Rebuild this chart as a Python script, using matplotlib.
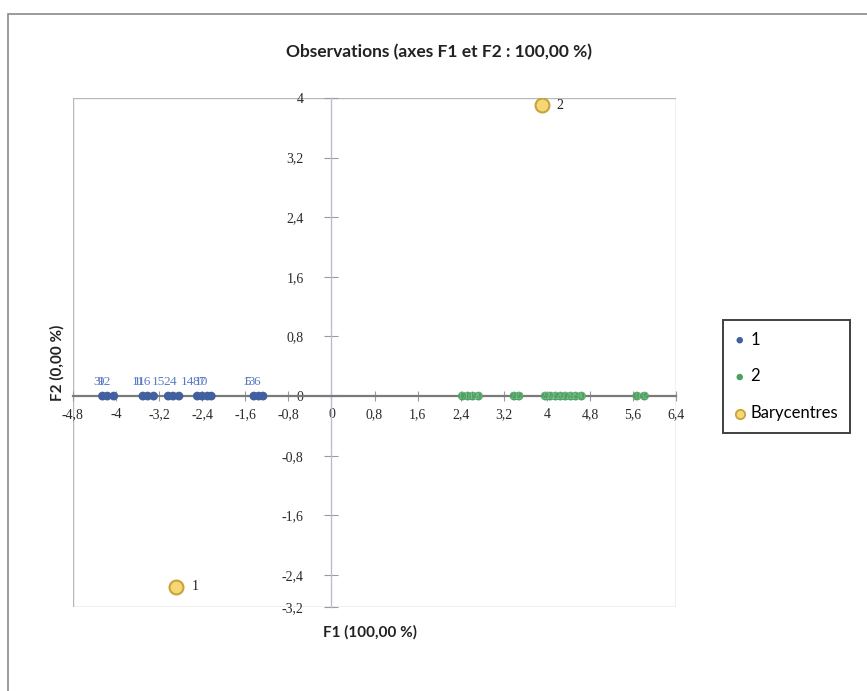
import matplotlib
matplotlib.use("Agg")
import matplotlib.pyplot as plt
from matplotlib.patches import Rectangle

# ---------------- data ----------------
g1_x = [-4.25, -4.16, -4.04, -3.50, -3.41, -3.30, -3.03, -2.94, -2.83,
        -2.49, -2.40, -2.30, -2.23, -1.44, -1.35, -1.27]
g1_y = [0.0] * 16
g1_lab = ["3", "9", "12", "1", "11", "16", "15", "2", "4",
          "14", "8", "7", "10", "5", "13", "6"]

g2_x = [2.43, 2.53, 2.62, 2.73, 3.39, 3.48, 3.97, 4.06, 4.16, 4.25,
        4.34, 4.44, 4.53, 4.64, 5.67, 5.81]
g2_y = [0.0] * 16
g2_lab = [str(i) for i in range(17, 33)]

bary_x = [-2.88, 3.90]
bary_y = [-2.56, 3.90]
bary_lab = ["1", "2"]

x_ticks = [-4.8, -4.0, -3.2, -2.4, -1.6, -0.8, 0.0, 0.8, 1.6, 2.4, 3.2, 4.0, 4.8, 5.6, 6.4]
x_labels = ["-4,8", "-4", "-3,2", "-2,4", "-1,6", "-0,8", "0", "0,8", "1,6",
            "2,4", "3,2", "4", "4,8", "5,6", "6,4"]
y_min, y_max = -2.83, 4.0
y_ticks = [4.0, 3.2, 2.4, 1.6, 0.8, 0.0, -0.8, -1.6, -2.4, y_min]
y_labels = ["4", "3,2", "2,4", "1,6", "0,8", "0", "-0,8", "-1,6", "-2,4", "-3,2"]

title = "Observations (axes F1 et F2 : 100,00 %)"
xlabel = "F1 (100,00 %)"
ylabel = "F2 (0,00 %)"

c_blue = "#41609f"
c_blue_lab = "#5b7cc2"
c_green = "#4f9f62"
c_green_lab = "#7cc48c"
c_bary_face = "#f7d774"
c_bary_edge = "#c8a23a"

# ---------------- figure ----------------
fig = plt.figure(figsize=(8.67, 6.91), dpi=100)
fig.patch.set_facecolor("white")

# outer chart frame
fig.patches.append(Rectangle((0.009, -0.05), 1.2, 1.03, transform=fig.transFigure,
                             fill=False, ec="#8a8a8a", lw=1.2))

ax = fig.add_axes([0.084, 0.1216, 0.696, 0.7366])
ax.set_xlim(-4.8, 6.4)
ax.set_ylim(y_min, y_max)

# box around plot area
ax.add_patch(Rectangle((0, 0), 1, 1, transform=ax.transAxes, fill=False,
                       ec="#b8b8b8", lw=1.0, zorder=1))

for s in ["top", "right"]:
    ax.spines[s].set_visible(False)
ax.spines["left"].set_position(("data", 0))
ax.spines["bottom"].set_position(("data", 0))
ax.spines["left"].set_color("#b9bfd0")
ax.spines["left"].set_linewidth(1.0)
ax.spines["bottom"].set_color("#7a7a7a")
ax.spines["bottom"].set_linewidth(1.6)

ax.set_xticks(x_ticks)
ax.set_xticklabels(x_labels)
ax.set_yticks(y_ticks)
ax.set_yticklabels(y_labels)
ax.tick_params(axis="x", direction="inout", length=7, width=0.8, color="#9a9a9a",
               pad=5, labelsize=10)
ax.tick_params(axis="y", direction="inout", length=10, width=0.8, color="#9a9a9a",
               pad=15, labelsize=10)
for t in ax.get_xticklabels() + ax.get_yticklabels():
    t.set_fontfamily("Liberation Serif")
    t.set_color("#2a2a2a")

# points
ax.scatter(g1_x, g1_y, s=40, color=c_blue, zorder=4, edgecolors="none")
ax.scatter(g2_x, g2_y, s=40, color=c_green, zorder=4, edgecolors="none")
ax.scatter(bary_x, bary_y, s=100, facecolor=c_bary_face, edgecolor=c_bary_edge,
           linewidth=1.5, zorder=5)

for x, y, lab in zip(g1_x, g1_y, g1_lab):
    ax.annotate(lab, (x, y), xytext=(-2, 6), textcoords="offset points",
                ha="right", va="bottom", fontsize=9.5, color=c_blue_lab,
                family="Liberation Serif", zorder=6)
for x, y, lab in zip(g2_x, g2_y, g2_lab):
    ax.annotate(lab, (x, y), xytext=(0, 0), textcoords="offset points",
                ha="center", va="center", fontsize=7, color=c_green_lab,
                family="Liberation Serif", zorder=6, alpha=0.85)
for x, y, lab in zip(bary_x, bary_y, bary_lab):
    ax.annotate(lab, (x, y), xytext=(11, 0), textcoords="offset points",
                ha="left", va="center", fontsize=10, color="#222222",
                family="Liberation Serif", zorder=6)

# texts
fig.text(0.506, 0.925, title, ha="center", va="center", fontsize=12.5,
         family="Lato", fontweight="bold", color="#222222")
fig.text(0.427, 0.085, xlabel, ha="center", va="center", fontsize=11,
         family="Lato", fontweight="bold", color="#222222")
fig.text(0.066, 0.475, ylabel, ha="center", va="center", fontsize=11,
         family="Lato", fontweight="bold", color="#222222", rotation=90)

# legend
h1 = ax.scatter([], [], s=22, color=c_blue, edgecolors="none")
h2 = ax.scatter([], [], s=22, color=c_green, edgecolors="none")
h3 = ax.scatter([], [], s=45, facecolor=c_bary_face, edgecolor=c_bary_edge, linewidth=1.3)
leg = fig.legend([h1, h2, h3], ["1", "2", "Barycentres"],
                 loc="upper left", bbox_to_anchor=(0.834, 0.537),
                 frameon=True, fancybox=False, shadow=False,
                 prop={"family": "Lato", "size": 12},
                 labelspacing=1.25, borderpad=0.7, handlelength=0.6,
                 handletextpad=0.35, borderaxespad=0)
leg.get_frame().set_edgecolor("#111111")
leg.get_frame().set_linewidth(1.4)

fig.savefig("out.png", dpi=100)
